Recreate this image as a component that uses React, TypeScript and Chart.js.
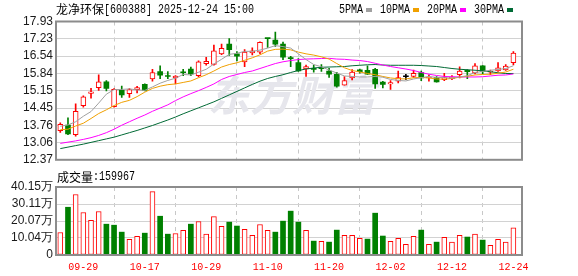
import React, { useEffect, useRef } from "react";
import { Chart, registerables } from "chart.js";
Chart.register(...registerables);

const stockTitle = "龙净环保[600388] 2025-12-24 15:00";
const volTitle = "成交量:159967";
const maNames = ["5PMA", "10PMA", "20PMA", "30PMA"];

const dates = [
  "09-24", "09-25", "09-26", "09-29", "09-30", "10-09", "10-10", "10-13", "10-14", "10-15",
  "10-16", "10-17", "10-20", "10-21", "10-22", "10-23", "10-24", "10-27", "10-28", "10-29",
  "10-30", "10-31", "11-03", "11-04", "11-05", "11-06", "11-07", "11-10", "11-11", "11-12",
  "11-13", "11-14", "11-17", "11-18", "11-19", "11-20", "11-21", "11-24", "11-25", "11-26",
  "11-27", "11-28", "12-01", "12-02", "12-03", "12-04", "12-05", "12-08", "12-09", "12-10",
  "12-11", "12-12", "12-15", "12-16", "12-17", "12-18", "12-19", "12-22", "12-23", "12-24",
];
const labelIdx = [3, 11, 19, 27, 35, 43, 51, 59];

const opens = [
  13.54, 13.77, 13.38, 14.55, 15.04, 15.27, 15.5, 14.51, 15.16, 15.03,
  15.19, 15.4, 15.62, 15.92, 15.76, 15.66, 15.89, 16.02, 15.75, 16.23,
  16.2, 16.63, 17.02, 16.63, 16.31, 16.67, 16.7, 17.25, 17.18, 17.02,
  16.47, 16.28, 16.02, 16.05, 16.04, 15.94, 15.81, 15.37, 15.66, 15.99,
  15.97, 16.01, 15.49, 15.42, 15.53, 15.71, 15.72, 15.88, 15.66, 15.68,
  15.59, 15.63, 15.79, 15.97, 15.86, 16.15, 15.89, 15.94, 15.98, 16.27,
];
const highs = [
  13.86, 14.06, 14.62, 14.94, 15.24, 15.79, 15.55, 15.23, 15.33, 15.23,
  15.32, 15.42, 16.01, 16.15, 15.92, 15.76, 16.01, 16.1, 16.35, 16.49,
  16.98, 17.02, 17.24, 16.72, 16.8, 16.87, 17.11, 17.25, 17.5, 17.1,
  16.53, 16.44, 16.18, 16.18, 16.2, 16.05, 15.89, 15.72, 16.0, 16.02,
  16.15, 16.05, 15.52, 15.55, 15.94, 15.81, 15.98, 15.94, 15.79, 15.72,
  15.85, 15.76, 16.11, 16.0, 16.24, 16.16, 15.98, 16.28, 16.2, 16.72,
];
const lows = [
  13.47, 13.38, 13.32, 14.49, 14.85, 15.16, 15.14, 14.49, 14.88, 14.88,
  15.06, 15.14, 15.53, 15.63, 15.63, 15.42, 15.75, 15.75, 15.7, 16.17,
  16.17, 16.6, 16.57, 16.35, 16.11, 16.59, 16.64, 16.89, 16.93, 16.4,
  16.11, 15.92, 15.72, 15.89, 15.92, 15.68, 15.29, 15.37, 15.58, 15.85,
  15.8, 15.24, 15.26, 15.2, 15.46, 15.59, 15.68, 15.55, 15.53, 15.49,
  15.55, 15.59, 15.66, 15.63, 15.82, 15.82, 15.79, 15.92, 15.96, 16.18,
];
const closes = [
  13.8, 13.41, 14.32, 14.9, 15.1, 15.5, 15.24, 15.2, 14.98, 15.19,
  15.27, 15.16, 15.88, 15.77, 15.72, 15.74, 15.87, 15.82, 16.31, 16.33,
  16.75, 16.85, 16.8, 16.54, 16.7, 16.75, 17.09, 17.24, 17.02, 16.5,
  16.44, 15.94, 16.12, 16.0, 16.03, 15.81, 15.33, 15.55, 15.9, 15.91,
  15.81, 15.42, 15.4, 15.47, 15.68, 15.71, 15.85, 15.66, 15.7, 15.5,
  15.68, 15.7, 15.94, 15.91, 16.15, 15.92, 15.94, 16.07, 16.14, 16.66,
];
// volume in 万股
const volumes = [
  13.3, 28.2, 35.7, 25.1, 20.4, 25.7, 18.2, 17.6, 13.5, 9.2,
  11.0, 12.9, 37.4, 22.9, 12.3, 12.7, 14.5, 18.2, 19.8, 12.3,
  22.7, 16.9, 19.4, 17.1, 15.1, 11.6, 18.0, 14.5, 13.5, 20.0,
  25.9, 19.4, 14.5, 8.2, 8.0, 7.6, 14.7, 11.6, 11.6, 9.8,
  9.4, 24.7, 11.2, 8.0, 9.8, 6.3, 11.0, 14.7, 6.3, 7.6,
  10.4, 7.6, 11.6, 10.6, 12.3, 8.8, 5.7, 9.2, 7.6, 16.0,
];
const ma5 = [
  13.72, 13.77, 13.9, 14.12, 14.31, 14.65, 15.01, 15.19, 15.2, 15.22,
  15.18, 15.16, 15.3, 15.45, 15.56, 15.65, 15.8, 15.78, 15.89, 16.01,
  16.22, 16.41, 16.61, 16.65, 16.73, 16.73, 16.78, 16.86, 16.96, 16.92,
  16.86, 16.63, 16.4, 16.2, 16.11, 15.98, 15.86, 15.74, 15.72, 15.7,
  15.7, 15.72, 15.69, 15.6, 15.56, 15.54, 15.62, 15.67, 15.72, 15.68,
  15.68, 15.65, 15.7, 15.75, 15.88, 15.92, 15.97, 16.0, 16.04, 16.15,
];
const ma10 = [
  13.58, 13.6, 13.73, 13.84, 14.03, 14.23, 14.38, 14.55, 14.68, 14.76,
  14.91, 15.09, 15.24, 15.33, 15.39, 15.42, 15.48, 15.54, 15.67, 15.79,
  15.94, 16.1, 16.2, 16.27, 16.37, 16.47, 16.59, 16.74, 16.81, 16.82,
  16.79, 16.7, 16.63, 16.58, 16.51, 16.42, 16.24, 16.07, 15.96, 15.9,
  15.84, 15.79, 15.72, 15.66, 15.63, 15.62, 15.67, 15.68, 15.66, 15.62,
  15.61, 15.64, 15.69, 15.73, 15.78, 15.8, 15.81, 15.85, 15.9, 16.01,
];
const ma20 = [
  13.03, 13.08, 13.13, 13.19, 13.26, 13.35, 13.46, 13.6, 13.76, 13.9,
  14.04, 14.17, 14.32, 14.45, 14.58, 14.75, 14.9, 15.03, 15.15, 15.28,
  15.42, 15.6, 15.72, 15.8, 15.88, 15.94, 16.04, 16.14, 16.24, 16.31,
  16.36, 16.4, 16.42, 16.43, 16.44, 16.45, 16.42, 16.41, 16.38, 16.36,
  16.32, 16.25, 16.18, 16.12, 16.07, 16.02, 15.96, 15.88, 15.81, 15.76,
  15.72, 15.71, 15.7, 15.7, 15.7, 15.71, 15.74, 15.77, 15.78, 15.82,
];
const ma30 = [
  12.82, 12.88, 12.94, 13.0, 13.07, 13.14, 13.21, 13.28, 13.37, 13.46,
  13.55, 13.65, 13.75, 13.86, 13.97, 14.09, 14.22, 14.34, 14.46, 14.58,
  14.7, 14.84, 14.98, 15.12, 15.26, 15.4, 15.53, 15.64, 15.72, 15.79,
  15.88, 15.96, 16.02, 16.06, 16.09, 16.1, 16.11, 16.12, 16.15, 16.17,
  16.19, 16.2, 16.18, 16.17, 16.17, 16.17, 16.17, 16.16, 16.14, 16.12,
  16.08, 16.04, 16.01, 15.99, 15.97, 15.95, 15.91, 15.87, 15.84, 15.84,
];
const priceTicks = [12.37, 13.06, 13.76, 14.45, 15.15, 15.84, 16.54, 17.23, 17.93];
const volTicks = [0, 10.04, 20.07, 30.11, 40.15];

const RED = "#ff0000";
const GREEN = "#008000";
const BLACK = "#000000";
const maColors = ["#a0a0a0", "#f0a000", "#ff00ff", "#006a35"];
const X_MIN = -0.56;
const X_MAX = 60.12;

function drawMixed(ctx: CanvasRenderingContext2D, text: string, x: number, y: number, color: string) {
  ctx.save();
  ctx.fillStyle = color;
  ctx.textBaseline = "middle";
  ctx.textAlign = "left";
  let cx = x;
  for (const ch of text) {
    const wide = ch.charCodeAt(0) > 0x2e7f;
    if (wide) {
      ctx.font = '12px "Noto Sans CJK SC"';
      ctx.fillText(ch, cx, y);
      cx += 12;
    } else {
      ctx.font = '12px "Liberation Mono"';
      ctx.save();
      ctx.translate(cx, y);
      ctx.scale(6 / 7.2, 1);
      ctx.fillText(ch, 0, 0);
      ctx.restore();
      cx += 6;
    }
  }
  ctx.restore();
}

function frame(chart: any) {
  const { ctx, chartArea: a } = chart;
  ctx.save();
  ctx.strokeStyle = "#8c8c8c";
  ctx.lineWidth = 2;
  ctx.strokeRect(a.left, a.top, a.right - a.left, a.bottom - a.top);
  ctx.restore();
}

const mainDecor = {
  id: "mainDecor",
  beforeDatasetsDraw(chart: any) {
    const { ctx } = chart;
    ctx.save();
    ctx.fillStyle = "#e6e6ec";
    ctx.font = 'italic bold 42px "Noto Sans CJK SC"';
    ctx.textBaseline = "middle";
    ctx.fillText("东方财富", 208, 95);
    ctx.restore();
  },
  afterDraw(chart: any) {
    const { ctx } = chart;
    frame(chart);
    drawMixed(ctx, stockTitle, 56, 9.5, "#000");
    let x = 339;
    maNames.forEach((n, k) => {
      drawMixed(ctx, n, x, 9.5, "#000");
      x += n.length * 6 + 3;
      ctx.fillStyle = maColors[k];
      ctx.fillRect(x, 8, 6, 4);
      x += 6 + 8;
    });
  },
};

const volDecor = {
  id: "volDecor",
  afterDraw(chart: any) {
    frame(chart);
    drawMixed(chart.ctx, volTitle, 57, 7, "#000");
  },
};

export default function App() {
  const mainRef = useRef<HTMLCanvasElement>(null);
  const volRef = useRef<HTMLCanvasElement>(null);

  useEffect(() => {
    const idx = dates.map((_, i) => i);
    const cColor = idx.map((i) => (closes[i] > opens[i] ? RED : closes[i] < opens[i] ? GREEN : BLACK));
    const volUp = idx.map((i) => (i === 0 ? closes[0] >= opens[0] : closes[i] >= closes[i - 1]));

    const xScale = (showLabels: boolean, h: number) => ({
      type: "linear",
      min: X_MIN,
      max: X_MAX,
      offset: false,
      afterBuildTicks: (s: any) => {
        s.ticks = labelIdx.map((v) => ({ value: v }));
      },
      afterFit: (s: any) => {
        s.height = h;
      },
      ticks: {
        display: showLabels,
        autoSkip: false,
        maxRotation: 0,
        padding: 6,
        color: RED,
        font: { family: '"Liberation Mono"', size: 10 },
        callback: (v: any) => dates[Number(v)] ?? "",
      },
      grid: { color: "#c8c8c8", drawTicks: false, lineWidth: 1, borderDash: [4, 4] },
      border: { display: false, dash: [4, 4] },
    });

    const yFont = { family: '"Liberation Sans", Arial, sans-serif', size: 12 };

    const maSets = [ma5, ma10, ma20, ma30].map((arr, k) => ({
      type: "line",
      label: maNames[k],
      data: arr.map((v, i) => ({ x: i, y: v })),
      borderColor: maColors[k],
      borderWidth: 1,
      pointRadius: 0,
      tension: 0,
      order: 0,
    }));

    const main = new Chart(mainRef.current as HTMLCanvasElement, {
      type: "bar",
      data: {
        datasets: [
          ...maSets,
          {
            type: "bar",
            label: "wick",
            data: idx.map((i) => ({ x: i, y: [lows[i], highs[i]] })),
            backgroundColor: cColor,
            borderWidth: 0,
            barThickness: 1,
            grouped: false,
            order: 3,
          },
          {
            type: "bar",
            label: "body",
            data: idx.map((i) => ({ x: i, y: [opens[i], closes[i]] })),
            backgroundColor: idx.map((i) => (cColor[i] === RED ? "#ffffff" : cColor[i])),
            borderColor: cColor,
            borderWidth: idx.map((i) => (cColor[i] === RED ? 1 : 0)),
            borderSkipped: false,
            barThickness: 5,
            minBarLength: 1,
            grouped: false,
            order: 2,
          },
        ] as any,
      },
      options: {
        animation: false,
        responsive: false,
        events: [],
        layout: { padding: { top: 21.5, bottom: 5.5, left: 0, right: 56 } },
        plugins: { legend: { display: false }, tooltip: { enabled: false } },
        scales: {
          x: xScale(false, 0) as any,
          y: {
            min: 12.37,
            max: 17.93,
            afterBuildTicks: (s: any) => {
              s.ticks = priceTicks.map((v) => ({ value: v }));
            },
            afterFit: (s: any) => {
              s.width = 56;
            },
            ticks: {
              autoSkip: false,
              callback: (v: any) => Number(v).toFixed(2),
              font: yFont,
              color: "#1a1a1a",
              padding: 3,
            },
            grid: { color: "#d2d2d2", drawTicks: false, lineWidth: 1 },
            border: { display: false },
          },
        },
      },
      plugins: [mainDecor],
    });

    const vol = new Chart(volRef.current as HTMLCanvasElement, {
      type: "bar",
      data: {
        datasets: [
          {
            label: "volume",
            data: idx.map((i) => ({ x: i, y: volumes[i] })),
            backgroundColor: idx.map((i) => (volUp[i] ? "#ffffff" : GREEN)),
            borderColor: idx.map((i) => (volUp[i] ? RED : GREEN)),
            borderWidth: idx.map((i) => (volUp[i] ? 1 : 0)),
            borderSkipped: false,
            barThickness: 5,
            grouped: false,
          },
        ] as any,
      },
      options: {
        animation: false,
        responsive: false,
        events: [],
        layout: { padding: { top: 17, bottom: 0, left: 0, right: 56 } },
        plugins: { legend: { display: false }, tooltip: { enabled: false } },
        scales: {
          x: xScale(true, 21) as any,
          y: {
            min: 0,
            max: 40.15,
            afterBuildTicks: (s: any) => {
              s.ticks = volTicks.map((v) => ({ value: v }));
            },
            afterFit: (s: any) => {
              s.width = 56;
            },
            ticks: {
              autoSkip: false,
              callback: (v: any) => (Number(v) === 0 ? "0" : Number(v).toFixed(2) + "万"),
              font: yFont,
              color: "#1a1a1a",
              padding: 3,
            },
            grid: { color: "#d2d2d2", drawTicks: false, lineWidth: 1 },
            border: { display: false },
          },
        },
      },
      plugins: [volDecor],
    });

    return () => {
      main.destroy();
      vol.destroy();
    };
  }, []);

  return (
    <div style={{ position: "fixed", left: 0, top: 0, width: 578, height: 276, background: "#fff" }}>
      <canvas ref={mainRef} width={578} height={170} style={{ position: "absolute", left: 0, top: 0, display: "block" }} />
      <canvas ref={volRef} width={578} height={106} style={{ position: "absolute", left: 0, top: 170, display: "block" }} />
    </div>
  );
}
